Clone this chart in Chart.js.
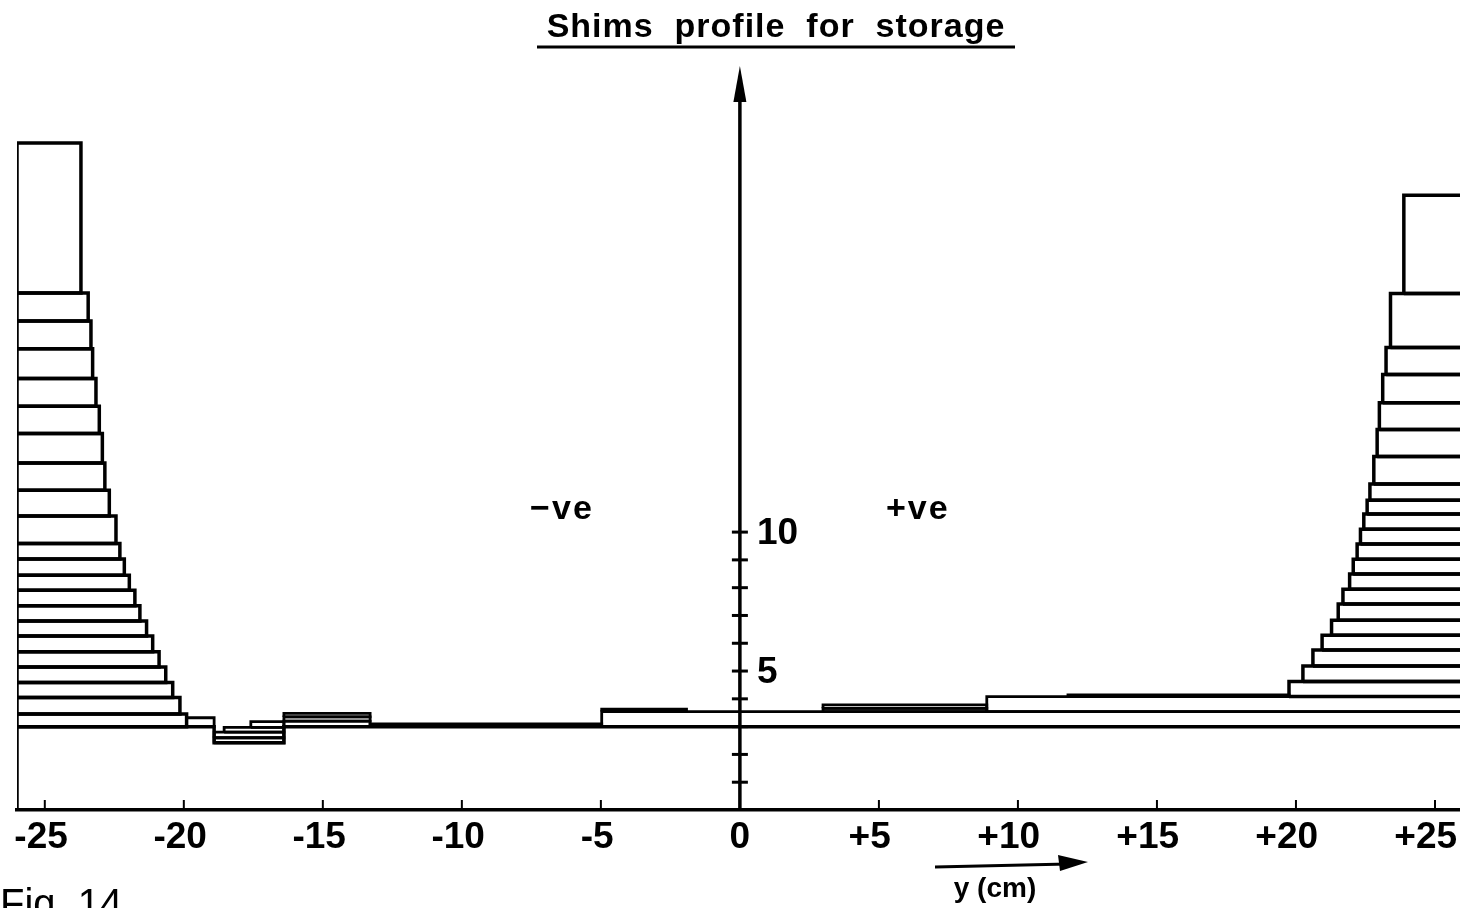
<!DOCTYPE html>
<html><head><meta charset="utf-8">
<script src="https://cdn.jsdelivr.net/npm/chart.js@4.4.0/dist/chart.umd.min.js"></script>
<style>html,body{margin:0;padding:0;background:#fff;overflow:hidden}#wrap{width:1460px;height:908px;position:relative}canvas{display:block}</style>
</head><body><div id="wrap"><canvas id="c" width="1460" height="908"></canvas></div>
<script>
// ---- data (cm) ----
const xTickValues = [-25, -20, -15, -10, -5, 0, 5, 10, 15, 20, 25];
const yTickValues = [1, 2, 3, 4, 5, 6, 7, 8, 9, 10];
const yLabelValues = [5, 10];
const baseHeight = 3.0;
// base pole plate outline (with the negative notch)
const baseX = [-26, 26, 26, -16.40, -16.40, -18.91, -18.91, -26, -26];
const baseY = [0, 0, 3.0, 3.0, 2.42, 2.42, 3.0, 3.0, 0];
// left shim stack: all start at the left edge (-26)
const leftEdge = -26;
const leftTops = [3.45, 4.05, 4.59, 5.15, 5.69, 6.26, 6.80, 7.35, 7.91, 8.45, 9.03, 9.59, 10.58, 11.51, 12.49, 13.55, 14.53, 15.53, 16.60, 17.60, 18.60, 24.00];
const leftEnds = [-19.90, -20.14, -20.40, -20.65, -20.89, -21.12, -21.34, -21.58, -21.76, -21.96, -22.14, -22.30, -22.44, -22.68, -22.84, -22.93, -23.04, -23.16, -23.28, -23.34, -23.44, -23.70];
// right shim stack: all end at the right edge (+26), first one sits on 4.08
const rightEdge = 26;
const rightBase = 4.08;
const rightTops = [4.62, 5.18, 5.76, 6.29, 6.83, 7.41, 7.94, 8.49, 9.02, 9.57, 10.10, 10.65, 11.15, 11.73, 12.72, 13.69, 14.65, 15.67, 16.64, 18.59, 22.12];
const rightStarts = [19.75, 20.25, 20.61, 20.94, 21.28, 21.52, 21.69, 21.93, 22.06, 22.20, 22.32, 22.44, 22.56, 22.66, 22.80, 22.92, 23.00, 23.12, 23.24, 23.40, 23.88];
// thin central shims: start, end, bottom, top
const midStart  = [-19.90, -18.91, -18.91, -18.55, -17.59, -16.40, -16.40, -16.40, -13.30, -4.97, -4.97, 2.99, 2.99, 8.88, 11.80];
const midEnd    = [-18.91, -16.40, -16.40, -16.40, -16.40, -13.30, -13.30, -13.30, -4.97, 26, -1.92, 8.88, 8.88, 26, 19.75];
const midBottom = [3.00, 2.42, 2.60, 2.80, 2.97, 3.00, 3.20, 3.35, 3.00, 3.00, 3.54, 3.54, 3.66, 3.54, 4.08];
const midTop    = [3.32, 2.60, 2.80, 2.97, 3.18, 3.20, 3.35, 3.48, 3.10, 3.54, 3.63, 3.66, 3.78, 4.08, 4.14];

const FONT = "'Liberation Sans', Arial, sans-serif";

function rect(x0, x1, y0, y1) {
  return [{x:x0,y:y0},{x:x1,y:y0},{x:x1,y:y1},{x:x0,y:y1},{x:x0,y:y0}];
}
function ds(points, w) {
  return {data: points, showLine: true, borderColor: '#000', borderWidth: w || 3.5,
          pointRadius: 0, fill: false, tension: 0, borderJoinStyle: 'miter'};
}
const datasets = [];
datasets.push(ds(baseX.map((x, i) => ({x: x, y: baseY[i]}))));
leftTops.forEach((t, i) => {
  const b = i === 0 ? baseHeight : leftTops[i - 1];
  datasets.push(ds(rect(leftEdge, leftEnds[i], b, t)));
});
rightTops.forEach((t, i) => {
  const b = i === 0 ? rightBase : rightTops[i - 1];
  datasets.push(ds(rect(rightStarts[i], rightEdge, b, t)));
});
midStart.forEach((s, i) => {
  datasets.push(ds(rect(s, midEnd[i], midBottom[i], midTop[i]), 2.8));
});

const decor = {
  id: 'decor',
  afterDatasetsDraw(chart) {
    const ctx = chart.ctx, xs = chart.scales.x, ys = chart.scales.y;
    const X = v => xs.getPixelForValue(v), Y = v => ys.getPixelForValue(v);
    ctx.save();
    ctx.strokeStyle = '#000'; ctx.fillStyle = '#000';
    // y axis with arrow
    const x0 = X(0);
    ctx.lineWidth = 3.5;
    ctx.beginPath(); ctx.moveTo(x0, Y(0)); ctx.lineTo(x0, chart.chartArea.top + 20); ctx.stroke();
    ctx.beginPath();
    ctx.moveTo(x0, chart.chartArea.top - 2);
    ctx.lineTo(x0 - 6.5, chart.chartArea.top + 34);
    ctx.lineTo(x0 + 6.5, chart.chartArea.top + 34);
    ctx.closePath(); ctx.fill();
    // cross ticks on y axis
    ctx.lineWidth = 3;
    yTickValues.forEach(v => {
      ctx.beginPath(); ctx.moveTo(x0 - 8, Y(v)); ctx.lineTo(x0 + 8, Y(v)); ctx.stroke();
    });
    // small ticks on x axis (upwards)
    ctx.lineWidth = 2;
    xTickValues.forEach(v => {
      ctx.beginPath(); ctx.moveTo(X(v), Y(0)); ctx.lineTo(X(v), Y(0) - 10); ctx.stroke();
    });
    // y labels
    ctx.font = "bold 37px " + FONT;
    ctx.textAlign = 'left'; ctx.textBaseline = 'middle';
    yLabelValues.forEach(v => ctx.fillText(String(v), x0 + 17, Y(v) + 2));
    // -ve / +ve
    ctx.font = "bold 34px " + FONT;
    ctx.textAlign = 'center';
    try { ctx.letterSpacing = '2px'; } catch (e) {}
    ctx.fillText('\u2212ve', X(-6.4), Y(10.8));
    ctx.fillText('+ve', X(6.4), Y(10.8));
    try { ctx.letterSpacing = '0px'; } catch (e) {}
    ctx.restore();
  },
  afterDraw(chart) {
    const ctx = chart.ctx;
    ctx.save();
    ctx.fillStyle = '#000'; ctx.strokeStyle = '#000';
    // title
    ctx.font = "bold 34px " + FONT;
    ctx.textAlign = 'center'; ctx.textBaseline = 'alphabetic';
    try { ctx.letterSpacing = '1px'; } catch (e) {}
    ctx.fillText('Shims  profile  for  storage', 776, 37);
    try { ctx.letterSpacing = '0px'; } catch (e) {}
    ctx.lineWidth = 3;
    ctx.beginPath(); ctx.moveTo(537, 47); ctx.lineTo(1015, 47); ctx.stroke();
    // x axis title with arrow
    ctx.lineWidth = 3;
    ctx.beginPath(); ctx.moveTo(935, 867); ctx.lineTo(1068, 864); ctx.stroke();
    ctx.beginPath(); ctx.moveTo(1088, 862); ctx.lineTo(1058, 855); ctx.lineTo(1060, 871); ctx.closePath(); ctx.fill();
    ctx.font = "bold 28px " + FONT;
    ctx.textAlign = 'center';
    ctx.fillText('y (cm)', 995, 897);
    // figure caption (cut by the page edge)
    ctx.font = "40px " + FONT;
    ctx.textAlign = 'left';
    ctx.fillText('Fig. 14', 0, 917);
    ctx.restore();
  }
};

new Chart(document.getElementById('c'), {
  type: 'scatter',
  data: {datasets: datasets},
  options: {
    responsive: false, animation: false, devicePixelRatio: 1,
    layout: {padding: {top: 68, left: 17, right: 0, bottom: 0}},
    plugins: {legend: {display: false}, tooltip: {enabled: false}, title: {display: false}},
    scales: {
      x: {
        type: 'linear', position: 'bottom', min: -26, max: 25.9,
        grid: {display: false, drawTicks: false},
        border: {display: true, color: '#000', width: 3.5},
        afterFit: s => { s.height = 98; s.paddingLeft = 0; s.paddingRight = 0; },
        afterBuildTicks: s => { s.ticks = xTickValues.map(v => ({value: v})); },
        ticks: {
          color: '#000', padding: 6, maxRotation: 0, autoSkip: false,
          font: {family: FONT, size: 37, weight: 'bold'},
          callback: v => (v > 0 ? '+' + v + '\u2002' : (v < 0 ? '-' + Math.abs(v) + '\u2009' : '0'))
        }
      },
      y: {type: 'linear', min: 0, max: 26.7, display: false}
    }
  },
  plugins: [decor]
});
</script></body></html>
